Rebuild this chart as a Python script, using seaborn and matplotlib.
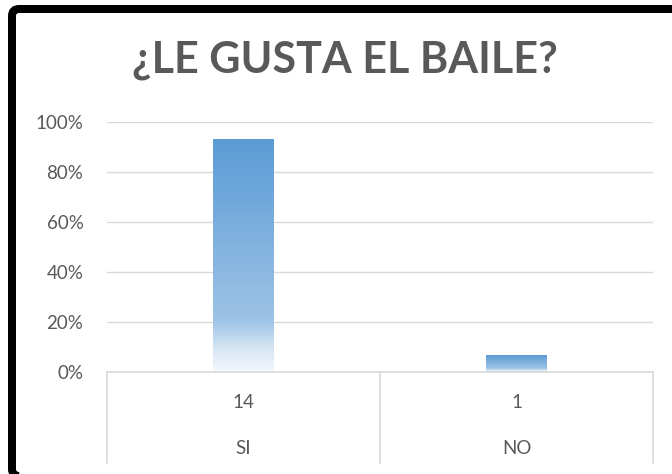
import numpy as np
import matplotlib
matplotlib.use("Agg")
import matplotlib.pyplot as plt
import seaborn as sns
import pandas as pd
from matplotlib.colors import LinearSegmentedColormap
from matplotlib.patches import FancyBboxPatch
from matplotlib.transforms import IdentityTransform, blended_transform_factory
from matplotlib.ticker import FuncFormatter

# datos de la encuesta
respuestas = ["SI", "NO"]
cantidades = [14, 1]
titulo = "¿LE GUSTA EL BAILE?"

df = pd.DataFrame({"respuesta": respuestas, "cantidad": cantidades})
df["porcentaje"] = df["cantidad"] / df["cantidad"].sum()

sns.set_theme(style="white")
plt.rcParams["font.family"] = ["Lato", "DejaVu Sans"]

gris = "#595959"
linea = "#d9d9d9"

W, H = 672, 474
fig = plt.figure(figsize=(W / 100, H / 100), dpi=100)
ax = fig.add_axes([107 / W, (H - 372) / H, (653 - 107) / W, 250 / H])

sns.barplot(data=df, x="respuesta", y="porcentaje", width=0.22, ax=ax,
            color="#5B9BD5", zorder=2)

ax.set_xlim(-0.5, 1.5)
ax.set_ylim(0, 1)
ax.set_yticks([0, 0.2, 0.4, 0.6, 0.8, 1.0])
ax.yaxis.set_major_formatter(FuncFormatter(lambda v, _: f"{v * 100:.0f}%"))
ax.tick_params(axis="y", length=0, pad=17, labelsize=13.5, labelcolor=gris)
ax.set_xticks([])
ax.set_xlabel("")
ax.set_ylabel("")
for s in ["left", "right", "top"]:
    ax.spines[s].set_visible(False)
ax.spines["bottom"].set_color(linea)
ax.spines["bottom"].set_linewidth(1.2)
for v in [0.2, 0.4, 0.6, 0.8, 1.0]:
    ax.axhline(v, color=linea, lw=1.0, zorder=1)

# degradado en las barras
cmap = LinearSegmentedColormap.from_list(
    "grad", [(0, "#5B9BD5"), (0.78, "#9DC3E6"), (0.9, "#D6E5F4"), (1.0, "#F4F8FC")])
grad = np.linspace(0, 1, 256).reshape(-1, 1)
for p in ax.patches:
    x0, y0 = p.get_x(), p.get_y()
    w, h = p.get_width(), p.get_height()
    im = ax.imshow(grad, cmap=cmap, aspect="auto", extent=[x0, x0 + w, y0, y0 + h],
                   origin="upper", zorder=2)
    im.set_clip_path(p)
    p.set_facecolor("none")
    p.set_edgecolor("none")
ax.set_xlim(-0.5, 1.5)
ax.set_ylim(0, 1)

# tabla de categorias bajo el eje
tr = blended_transform_factory(ax.transData, ax.transAxes)
for xv in [-0.5, 0.5, 1.5]:
    ax.plot([xv, xv], [0, -0.364], transform=tr, color=linea, lw=1.2, clip_on=False)
for i, (r, c) in enumerate(zip(respuestas, cantidades)):
    ax.text(i, -0.12, str(c), transform=tr, ha="center", va="center",
            fontsize=13.5, color=gris)
    ax.text(i, -0.305, r, transform=tr, ha="center", va="center",
            fontsize=13.5, color=gris)

fig.text(345 / W, (H - 60) / H, titulo, ha="center", va="center",
         fontsize=31, fontweight="bold", color=gris)

# marco negro
marco = FancyBboxPatch((12, -2), 700 - 12, 465 + 2,
                       boxstyle="round,pad=0,rounding_size=7",
                       transform=IdentityTransform(), fill=False,
                       edgecolor="black", lw=8 * 0.72)
fig.add_artist(marco)

fig.savefig("out.png", dpi=100)
